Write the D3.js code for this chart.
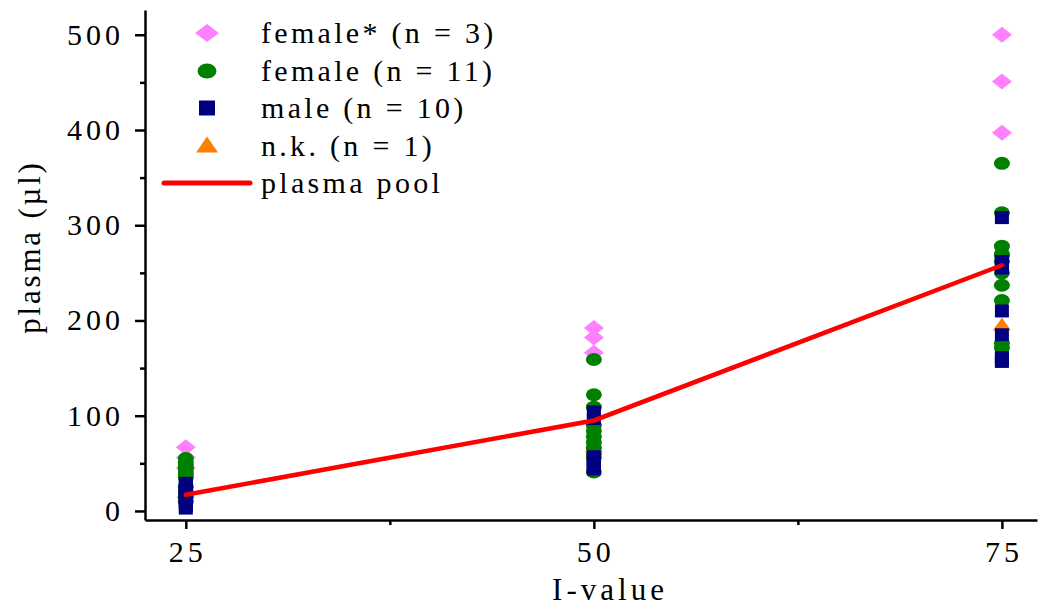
<!DOCTYPE html>
<html>
<head>
<meta charset="utf-8">
<script src="https://cdn.jsdelivr.net/npm/d3@7"></script>
<style>
  html, body { margin: 0; padding: 0; background: #fff; }
  svg { display: block; }
  text { font-family: "Liberation Serif", "DejaVu Serif", serif; fill: #000; }
</style>
</head>
<body>
<svg id="chart" width="1039" height="609"></svg>
<script>
// I-value groups on the x axis
const iValues = [25, 50, 75];

// Plasma volume (µl) per donor, one inner array per I-value
const femaleStar = [[67, 56, 45], [192, 182, 166], [500, 451, 397]];
const female = [
  [55, 51, 47, 44, 41, 38, 35, 25, 20, 15, 10],
  [159, 122, 109, 90, 84, 78, 72, 66, 60, 56, 41],
  [365, 313, 278, 270, 268, 262, 250, 237, 221, 176, 171]
];
const male = [
  [29, 26, 23, 21, 18, 15, 12, 9, 6, 3],
  [104, 97, 57, 54, 51, 49, 47, 46, 45, 44],
  [308, 262, 258, 256, 255, 210, 185, 161, 159, 157]
];
const notKnown = [[19], [67], [195]];

// Pooled plasma line
const plasmaPool = [17, 95, 258];

// Axis ticks
const yMajorTicks = [0, 100, 200, 300, 400, 500];
const yMinorTicks = [50, 150, 250, 350, 450];
const xMajorTicks = [25, 50, 75];
const xMinorTicks = [37.5, 62.5];

const legendLabels = ["female* (n = 3)", "female (n = 11)", "male (n = 10)", "n.k. (n = 1)", "plasma pool"];

const colors = { femaleStar: "#ff80ff", female: "#008000", male: "#000080", nk: "#ff8000", pool: "#ff0000" };

const svg = d3.select("#chart");

const x = d3.scaleLinear().domain([22.5, 77.15]).range([145, 1037]);
const y = d3.scaleLinear().domain([-9.5, 526]).range([520, 10]);

// ---- axes ----
const axisW = 2.5;
const yAxis = svg.append("g").attr("transform", `translate(${x.range()[0]},0)`);
yAxis.call(d3.axisLeft(y).tickValues(yMajorTicks).tickSize(10).tickSizeOuter(0).tickFormat(""));
const yMinor = svg.append("g").attr("transform", `translate(${x.range()[0]},0)`);
yMinor.call(d3.axisLeft(y).tickValues(yMinorTicks).tickSize(5).tickSizeOuter(0).tickFormat(""));
yMinor.select(".domain").remove();

const xAxis = svg.append("g").attr("transform", `translate(0,${y.range()[0]})`);
xAxis.call(d3.axisBottom(x).tickValues(xMajorTicks).tickSize(9).tickSizeOuter(0).tickFormat(""));
const xMinor = svg.append("g").attr("transform", `translate(0,${y.range()[0]})`);
xMinor.call(d3.axisBottom(x).tickValues(xMinorTicks).tickSize(5).tickSizeOuter(0).tickFormat(""));
xMinor.select(".domain").remove();

svg.selectAll(".domain, .tick line").attr("stroke", "#000").attr("stroke-width", axisW);

// tick labels
svg.append("g").selectAll("text").data(yMajorTicks).join("text")
  .attr("x", 124).attr("y", d => y(d) + 10)
  .attr("text-anchor", "end")
  .attr("font-size", 30).attr("letter-spacing", 4)
  .text(d => d);

svg.append("g").selectAll("text").data(xMajorTicks).join("text")
  .attr("x", d => x(d) + 2).attr("y", 562)
  .attr("text-anchor", "middle")
  .attr("font-size", 30).attr("letter-spacing", 4)
  .text(d => d);

// axis titles
svg.append("text")
  .attr("x", 610).attr("y", 600)
  .attr("text-anchor", "middle")
  .attr("font-size", 31).attr("letter-spacing", 4)
  .text("I-value");

svg.append("text")
  .attr("transform", "translate(40,247) rotate(-90)")
  .attr("text-anchor", "middle")
  .attr("font-size", 31).attr("letter-spacing", 2.8)
  .text("plasma (µl)");

// ---- markers ----
function flatten(series) {
  const out = [];
  series.forEach((vals, i) => vals.forEach(v => out.push({ x: iValues[i], v })));
  return out;
}

const diamond = (w, h) => `M0,${-h / 2}L${w / 2},0L0,${h / 2}L${-w / 2},0Z`;
const triangle = (w, h) => `M0,${-h * 0.6}L${w / 2},${h * 0.4}L${-w / 2},${h * 0.4}Z`;
const square = (w, h) => `M${-w / 2},${-h / 2}h${w}v${h}h${-w}Z`;
const ellipse = (w, h) => `M${-w / 2},0a${w / 2},${h / 2} 0 1,0 ${w},0a${w / 2},${h / 2} 0 1,0 ${-w},0Z`;

const marks = svg.append("g");
function drawSeries(series, shape, color) {
  marks.append("g").selectAll("path").data(flatten(series)).join("path")
    .attr("transform", d => `translate(${x(d.x)},${y(d.v)})`)
    .attr("d", shape)
    .attr("fill", color);
}

drawSeries(femaleStar, diamond(20, 16), colors.femaleStar);
drawSeries(notKnown, triangle(18, 13), colors.nk);
drawSeries(female, ellipse(16, 13), colors.female);
drawSeries(male, square(14, 13), colors.male);

// plasma pool line
svg.append("path")
  .datum(plasmaPool.map((v, i) => [iValues[i], v]))
  .attr("fill", "none")
  .attr("stroke", colors.pool)
  .attr("stroke-width", 4.5)
  .attr("stroke-linecap", "round")
  .attr("d", d3.line().x(d => x(d[0])).y(d => y(d[1])));

// ---- legend ----
const legend = svg.append("g");
const rowY = [33, 71, 108, 146, 183];
const legendShapes = [
  { d: diamond(24, 18), c: colors.femaleStar },
  { d: ellipse(19, 15), c: colors.female },
  { d: square(16, 15), c: colors.male },
  { d: triangle(22, 16), c: colors.nk }
];
legendShapes.forEach((s, i) => {
  legend.append("path")
    .attr("transform", `translate(207,${rowY[i]})`)
    .attr("d", s.d).attr("fill", s.c);
});
legend.append("line")
  .attr("x1", 164).attr("x2", 250).attr("y1", rowY[4]).attr("y2", rowY[4])
  .attr("stroke", colors.pool).attr("stroke-width", 5).attr("stroke-linecap", "round");

legend.selectAll("text").data(legendLabels).join("text")
  .attr("x", 261).attr("y", (d, i) => rowY[i] + 10)
  .attr("font-size", 30).attr("letter-spacing", 3.3)
  .text(d => d);
</script>
</body>
</html>
